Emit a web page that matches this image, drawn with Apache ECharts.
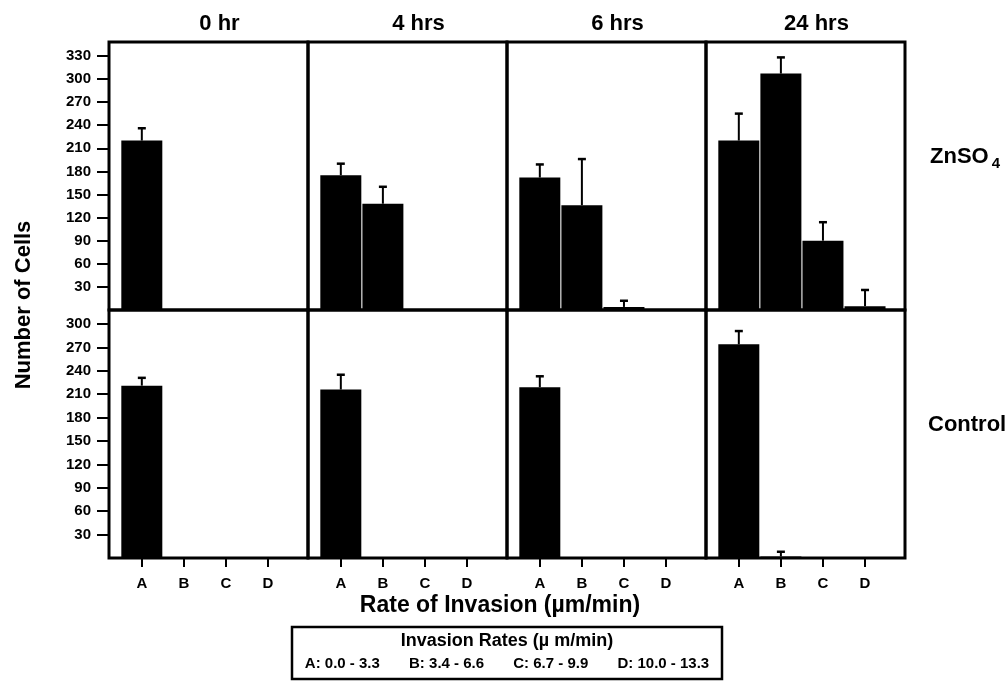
<!DOCTYPE html>
<html>
<head>
<meta charset="utf-8">
<script src="https://cdn.jsdelivr.net/npm/echarts@6/dist/echarts.min.js"></script>
<style>
html,body{margin:0;padding:0;background:#fff;}
#chart{width:1006px;height:683px;}
</style>
</head>
<body>
<div id="chart"></div>
<script>
// ---- data ----
const categories = ['A', 'B', 'C', 'D'];
const timepoints = ['0 hr', '4 hrs', '6 hrs', '24 hrs'];

const zn0 = [220, 0, 0, 0];      const zn0Err = [16, 0, 0, 0];
const zn4 = [175, 138, 0, 0];    const zn4Err = [15, 22, 0, 0];
const zn6 = [172, 136, 4, 0];    const zn6Err = [17, 60, 8, 0];
const zn24 = [220, 307, 90, 5];  const zn24Err = [35, 21, 24, 21];

const ctl0 = [221, 0, 0, 0];     const ctl0Err = [10, 0, 0, 0];
const ctl4 = [216, 0, 0, 0];     const ctl4Err = [19, 0, 0, 0];
const ctl6 = [219, 0, 0, 0];     const ctl6Err = [14, 0, 0, 0];
const ctl24 = [274, 2, 0, 0];    const ctl24Err = [17, 6, 0, 0];

const topTicks = [30, 60, 90, 120, 150, 180, 210, 240, 270, 300, 330];
const bottomTicks = [30, 60, 90, 120, 150, 180, 210, 240, 270, 300];

const rangeLegendTitle = 'Invasion Rates (\u00b5 m/min)';
const rangeLabels = ['A: 0.0 - 3.3', 'B: 3.4 - 6.6', 'C: 6.7 - 9.9', 'D: 10.0 - 13.3'];
const xTitle = 'Rate of Invasion (\u00b5m/min)';
const yTitle = 'Number of Cells';

// ---- build ----
const rows = [
  { vals: [zn0, zn4, zn6, zn24], errs: [zn0Err, zn4Err, zn6Err, zn24Err], ticks: topTicks, max: 348 },
  { vals: [ctl0, ctl4, ctl6, ctl24], errs: [ctl0Err, ctl4Err, ctl6Err, ctl24Err], ticks: bottomTicks, max: 318 }
];
const FONT = '"Liberation Sans", Arial, Helvetica, sans-serif';
const panelLeft0 = 109, panelW = 199;
const rowTop = [42, 310], rowH = [268, 248];

const grid = [], xAxis = [], yAxis = [], series = [];
rows.forEach((row, r) => {
  for (let c = 0; c < 4; c++) {
    const gi = r * 4 + c;
    grid.push({
      left: panelLeft0 + c * panelW, top: rowTop[r], width: panelW, height: rowH[r],
      show: true, borderColor: '#000', borderWidth: 3, backgroundColor: 'transparent',
      containLabel: false
    });
    const isBottom = r === 1;
    xAxis.push({
      type: 'value', gridIndex: gi, min: -0.78, max: 3.95, position: 'bottom',
      axisLine: { show: false, onZero: false }, splitLine: { show: false },
      axisTick: { show: isBottom, customValues: [0, 1, 2, 3], length: 9, lineStyle: { color: '#000', width: 2 } },
      axisLabel: {
        show: isBottom, customValues: [0, 1, 2, 3], margin: 18,
        formatter: v => categories[Math.round(v)] || '',
        color: '#000', fontFamily: FONT, fontWeight: 'bold', fontSize: 15
      }
    });
    const isLeft = c === 0;
    yAxis.push({
      type: 'value', gridIndex: gi, min: 0, max: row.max, position: 'left',
      axisLine: { show: false, onZero: false }, splitLine: { show: false },
      axisTick: { show: isLeft, customValues: row.ticks, length: 12, lineStyle: { color: '#000', width: 2 } },
      axisLabel: {
        show: isLeft, customValues: row.ticks, margin: 18,
        color: '#000', fontFamily: FONT, fontWeight: 'bold', fontSize: 15
      }
    });
    series.push({
      type: 'bar', xAxisIndex: gi, yAxisIndex: gi, barWidth: 41,
      itemStyle: { color: '#000' }, silent: true, animation: false,
      data: row.vals[c].map((v, i) => [i, v])
    });
    series.push({
      type: 'custom', xAxisIndex: gi, yAxisIndex: gi, silent: true, animation: false,
      data: row.vals[c].map((v, i) => [i, v, row.errs[c][i]]).filter(d => d[2] > 0),
      renderItem: function (params, api) {
        const x = api.value(0), v = api.value(1), e = api.value(2);
        const p0 = api.coord([x, v]);
        const p1 = api.coord([x, v + e]);
        return {
          type: 'group',
          children: [
            { type: 'line', shape: { x1: p0[0], y1: p0[1], x2: p1[0], y2: p1[1] }, style: { stroke: '#000', lineWidth: 2 } },
            { type: 'line', shape: { x1: p1[0] - 4, y1: p1[1], x2: p1[0] + 4, y2: p1[1] }, style: { stroke: '#000', lineWidth: 2.5 } }
          ]
        };
      }
    });
  }
});

const graphic = [];
timepoints.forEach((t, c) => {
  graphic.push({
    type: 'text',
    x: panelLeft0 + c * panelW + panelW / 2 + 11, y: 24,
    style: { text: t, font: 'bold 22px ' + FONT, fill: '#000', textAlign: 'center', textVerticalAlign: 'middle' }
  });
});
graphic.push({
  type: 'text', x: 24, y: 305, rotation: Math.PI / 2,
  style: { text: yTitle, font: 'bold 22px ' + FONT, fill: '#000', textAlign: 'center', textVerticalAlign: 'middle' }
});
graphic.push({
  type: 'text', x: 930, y: 157,
  style: {
    text: '{a|ZnSO}{b|4}', fill: '#000', textVerticalAlign: 'middle',
    rich: {
      a: { fontFamily: FONT, fontWeight: 'bold', fontSize: 22, fill: '#000' },
      b: { fontFamily: FONT, fontWeight: 'bold', fontSize: 15, fill: '#000', padding: [14, 0, 0, 3] }
    }
  }
});
graphic.push({
  type: 'text', x: 928, y: 425,
  style: { text: 'Control', font: 'bold 22px ' + FONT, fill: '#000', textVerticalAlign: 'middle' }
});
graphic.push({
  type: 'text', x: 500, y: 606,
  style: { text: xTitle, font: 'bold 23px ' + FONT, fill: '#000', textAlign: 'center', textVerticalAlign: 'middle' }
});
graphic.push({
  type: 'rect', shape: { x: 292, y: 627, width: 430, height: 52 },
  style: { fill: '#fff', stroke: '#000', lineWidth: 2.5 }
});
graphic.push({
  type: 'text', x: 507, y: 641,
  style: { text: rangeLegendTitle, font: 'bold 18px ' + FONT, fill: '#000', textAlign: 'center', textVerticalAlign: 'middle' }
});
graphic.push({
  type: 'text', x: 507, y: 664,
  style: { text: rangeLabels.join('       '), font: 'bold 15px ' + FONT, fill: '#000', textAlign: 'center', textVerticalAlign: 'middle' }
});

const chart = echarts.init(document.getElementById('chart'), null, { renderer: 'canvas' });
chart.setOption({
  backgroundColor: '#fff',
  animation: false,
  grid, xAxis, yAxis, series, graphic
});
</script>
</body>
</html>
